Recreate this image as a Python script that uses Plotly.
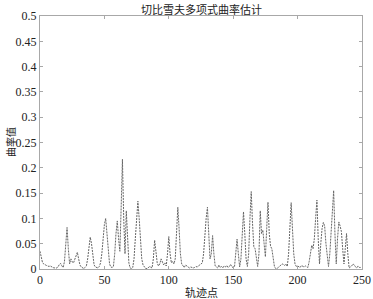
import plotly.graph_objects as go

x_points = list(range(0, 250))
curvature = [
    0.035, 0.02, 0.012, 0.01, 0.008, 0.007, 0.006, 0.005, 0.006, 0.004,
    0.003, 0.002, 0.003, 0.002, 0.004, 0.009, 0.011, 0.006, 0.003, 0.015,
    0.05, 0.082, 0.04, 0.01, 0.02, 0.014, 0.012, 0.018, 0.026, 0.033,
    0.02, 0.008, 0.004, 0.002, 0.001, 0.003, 0.006, 0.02, 0.045, 0.063,
    0.05, 0.022, 0.008, 0.004, 0.003, 0.002, 0.005, 0.012, 0.03, 0.06,
    0.088, 0.1, 0.07, 0.03, 0.01, 0.004, 0.003, 0.005, 0.03, 0.07,
    0.095, 0.06, 0.035, 0.12, 0.217, 0.1, 0.03, 0.115, 0.06, 0.012,
    0.002, 0.001, 0.003, 0.02, 0.06, 0.11, 0.134, 0.1, 0.05, 0.02,
    0.008, 0.003, 0.001, 0.001, 0.002, 0.005, 0.004, 0.002, 0.02, 0.057,
    0.035, 0.012, 0.006, 0.01, 0.02, 0.015, 0.008, 0.012, 0.006, 0.03,
    0.064, 0.03, 0.012, 0.015, 0.01, 0.02, 0.07, 0.122, 0.08, 0.03,
    0.01, 0.005, 0.003, 0.008, 0.006, 0.004, 0.002, 0.004, 0.003, 0.002,
    0.003, 0.005, 0.004, 0.006, 0.008, 0.01, 0.012, 0.03, 0.07, 0.1,
    0.122, 0.08, 0.02, 0.03, 0.066, 0.03, 0.006, 0.004, 0.002, 0.008,
    0.003, 0.005, 0.002, 0.006, 0.004, 0.007, 0.003, 0.005, 0.009, 0.004,
    0.003, 0.004, 0.03, 0.059, 0.03, 0.004, 0.02, 0.08, 0.113, 0.07,
    0.02, 0.005, 0.03, 0.1, 0.153, 0.09, 0.044, 0.04, 0.02, 0.005,
    0.03, 0.115, 0.07, 0.077, 0.05, 0.024, 0.08, 0.132, 0.07, 0.045,
    0.04, 0.02, 0.005, 0.001, 0.001, 0.003, 0.006, 0.008, 0.01, 0.009,
    0.007, 0.01, 0.005, 0.03, 0.09, 0.131, 0.08, 0.03, 0.01, 0.005,
    0.006, 0.004, 0.003, 0.007, 0.005, 0.004, 0.006, 0.004, 0.003, 0.015,
    0.03, 0.047, 0.04, 0.06, 0.1, 0.136, 0.06, 0.01, 0.05, 0.08,
    0.092, 0.085, 0.05, 0.02, 0.005, 0.03, 0.074, 0.12, 0.155, 0.07,
    0.01, 0.06, 0.093, 0.085, 0.074, 0.04, 0.01, 0.04, 0.07, 0.03,
    0.002, 0.004, 0.006, 0.01, 0.008, 0.004, 0.002, 0.006, 0.003, 0.003,
]
x_ticks = [0, 50, 100, 150, 200, 250]
y_ticks = [0, 0.05, 0.1, 0.15, 0.2, 0.25, 0.3, 0.35, 0.4, 0.45, 0.5]
title_text = "切比雪夫多项式曲率估计"
x_title = "轨迹点"
y_title = "曲率值"

serif = "Liberation Serif, Times New Roman, serif"
cjk = "Noto Sans CJK SC"

fig = go.Figure()
fig.add_trace(go.Scatter(
    x=x_points, y=curvature, mode="lines",
    line=dict(color="#666666", width=1, dash="2px,1px"),
    showlegend=False,
))

axis_common = dict(
    showline=True, linecolor="#a8a8a8", linewidth=1, mirror="ticks",
    ticks="inside", ticklen=3, tickcolor="#a8a8a8",
    showgrid=False, zeroline=False, automargin=False,
    tickfont=dict(family=serif, size=12, color="#222"),
)

fig.update_layout(
    width=373, height=299,
    margin=dict(l=39.5, r=10.5, t=16, b=30),
    paper_bgcolor="white", plot_bgcolor="white",
    xaxis=dict(range=[0, 250], tickvals=x_ticks, **axis_common),
    yaxis=dict(range=[0, 0.5], tickvals=y_ticks, **axis_common),
    annotations=[
        dict(text=title_text, xref="paper", yref="paper", x=0.5, y=1,
             yshift=7, xanchor="center", yanchor="middle", showarrow=False,
             font=dict(family=cjk, size=11, color="#222")),
        dict(text=x_title, xref="paper", yref="paper", x=0.5, y=0,
             yshift=-23, xanchor="center", yanchor="middle", showarrow=False,
             font=dict(family=cjk, size=11, color="#222")),
        dict(text=y_title, xref="paper", yref="paper", x=0, y=0.5,
             xshift=-29.5, xanchor="center", yanchor="middle", showarrow=False,
             textangle=-90, font=dict(family=cjk, size=10, color="#222")),
    ],
)

fig.write_html("out.html", config={"displayModeBar": False},
               post_script="document.body.style.margin='0';document.body.style.overflow='hidden';")
